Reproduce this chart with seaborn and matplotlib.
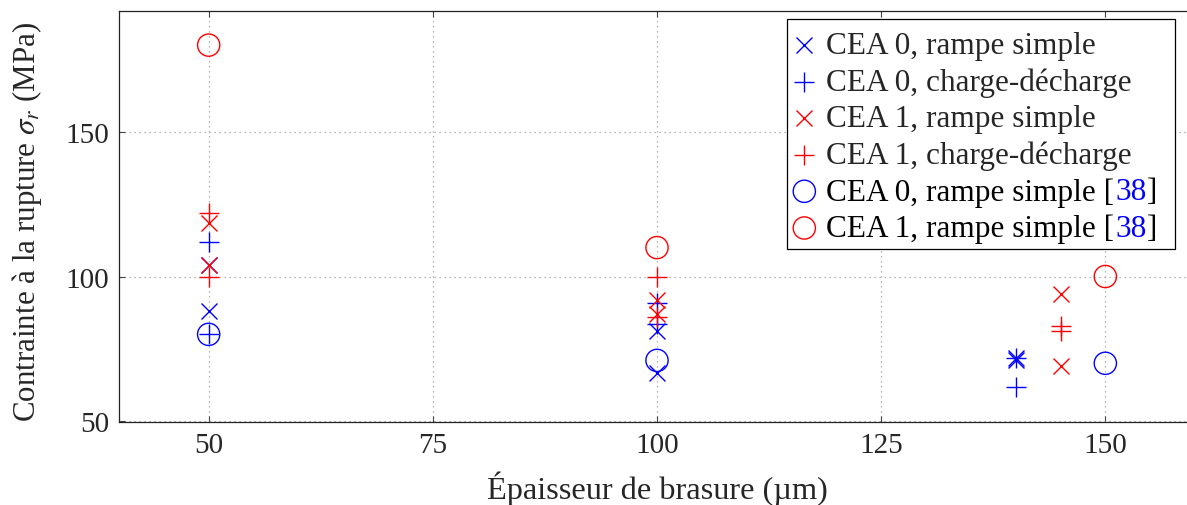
import numpy as np
import pandas as pd
import matplotlib
matplotlib.use("Agg")
import matplotlib.pyplot as plt
import matplotlib.transforms as mtransforms
from matplotlib.patches import Rectangle
import seaborn as sns

# data
x_cea0_rampe = [50, 50, 100, 100, 140, 140]
y_cea0_rampe = [104, 88, 81, 66.5, 72, 71]
x_cea0_charge = [50, 50, 100, 100, 140, 140]
y_cea0_charge = [112, 80, 91, 83.5, 72, 61.8]
x_cea1_rampe = [50, 50, 100, 100, 145, 145]
y_cea1_rampe = [118.5, 104, 92, 87, 94, 69]
x_cea1_charge = [50, 50, 100, 100, 145, 145]
y_cea1_charge = [122, 100, 100, 86, 83, 81]
x_ref_cea0 = [50, 100, 150]
y_ref_cea0 = [80, 71, 70]
x_ref_cea1 = [50, 100, 150]
y_ref_cea1 = [180, 110, 100]

xticks = [50, 75, 100, 125, 150]
yticks = [50, 100, 150]

BLUE = "#0000ff"
RED = "#ff0000"
FS_TICK = 21
FS_LAB = 23.3
FS_YLAB = 22.3
FS_LEG = 22.5

sns.set_style("ticks")
plt.rcParams["font.family"] = ["Liberation Serif", "DejaVu Serif"]
plt.rcParams["mathtext.fontset"] = "stix"

# (label, x, y, marker, colour, size)
series = [
    ("CEA 0, rampe simple", x_cea0_rampe, y_cea0_rampe, "x", BLUE, 11.5),
    ("CEA 0, charge-décharge", x_cea0_charge, y_cea0_charge, "+", BLUE, 15),
    ("CEA 1, rampe simple", x_cea1_rampe, y_cea1_rampe, "x", RED, 11.5),
    ("CEA 1, charge-décharge", x_cea1_charge, y_cea1_charge, "+", RED, 15),
    ("CEA 0, rampe simple [38]", x_ref_cea0, y_ref_cea0, "o", BLUE, 16),
    ("CEA 1, rampe simple [38]", x_ref_cea1, y_ref_cea1, "o", RED, 16),
]

fig = plt.figure(figsize=(11.87, 5.06), dpi=100)
W, H = 1187.0, 506.0
ax = fig.add_axes([119 / W, 1 - 423 / H, (1195 - 119) / W, (423 - 12) / H])

for label, xs, ys, mk, col, ms in series:
    df = pd.DataFrame({"x": xs, "y": ys})
    if mk == "o":
        sns.scatterplot(data=df, x="x", y="y", marker="o", s=ms ** 2,
                        facecolors="none", edgecolors=col, linewidths=1.0,
                        label=label, ax=ax, zorder=3)
    else:
        sns.scatterplot(data=df, x="x", y="y", marker=mk, s=ms ** 2,
                        color=col, linewidths=1.0, label=label, ax=ax, zorder=3)

ax.set_xlim(40, 160)
ax.set_ylim(49.7, 191.8)
ax.set_xticks(xticks)
ax.set_yticks(yticks)
ax.grid(True, linestyle=(0, (1, 3)), color="#a0a0a0", linewidth=0.9)
ax.set_axisbelow(True)
ax.tick_params(direction="in", length=4.5, width=0.8, top=True, right=True,
               labelsize=FS_TICK, color="#444444", pad=7)
for sp in ax.spines.values():
    sp.set_linewidth(0.9)
    sp.set_color("#222222")

ax.set_xlabel("Épaisseur de brasure (\u00b5m)", fontsize=FS_LAB, labelpad=9)
ax.set_ylabel("Contrainte à la rupture $\\sigma_r$ (MPa)", fontsize=FS_YLAB)
ax.yaxis.set_label_coords(-0.070, 0.49)

# legend box drawn by hand (pgfplots style), legend content without frame
box = Rectangle((787 / W, 1 - 250 / H), 388 / W, 230 / H, transform=fig.transFigure,
                facecolor="white", edgecolor="black", linewidth=0.9,
                clip_on=False, zorder=4)
ax.add_patch(box)

aw = 1195 - 119
ah = 423 - 12
leg = ax.legend(loc="upper left", bbox_to_anchor=((784 - 119) / aw, (423 - 26) / ah),
                borderaxespad=0, fontsize=FS_LEG, frameon=False,
                handlelength=0.9, handletextpad=0.25, labelspacing=0.23,
                borderpad=0.2, markerscale=1.0)
leg.set_zorder(5)

# colour the citation number in blue, as in the reference
fig.canvas.draw()
r = fig.canvas.get_renderer()
ident = mtransforms.IdentityTransform()
for t in leg.get_texts():
    s = t.get_text()
    if not s.endswith("[38]"):
        continue
    prop = t.get_fontproperties()
    bb = t.get_window_extent(r)
    _, _, d_full = r.get_text_width_height_descent(s, prop, ismath=False)
    _, _, d_lp = r.get_text_width_height_descent("lp", prop, ismath=False)
    base = bb.y0 + max(d_full, d_lp)
    pre = s[:-3]
    w_pre = r.get_text_width_height_descent(pre, prop, ismath=False)[0]
    w_mid = r.get_text_width_height_descent(pre + "38", prop, ismath=False)[0]
    t.set_alpha(0)
    fig.text(bb.x0, base, pre, fontproperties=prop, color="black",
             va="baseline", ha="left", transform=ident, zorder=10)
    fig.text(bb.x0 + w_pre + 1, base, "38", fontproperties=prop, color=BLUE,
             va="baseline", ha="left", transform=ident, zorder=10)
    fig.text(bb.x0 + w_mid + 1, base, "]", fontproperties=prop, color="black",
             va="baseline", ha="left", transform=ident, zorder=10)

fig.savefig("out.png", dpi=100)
